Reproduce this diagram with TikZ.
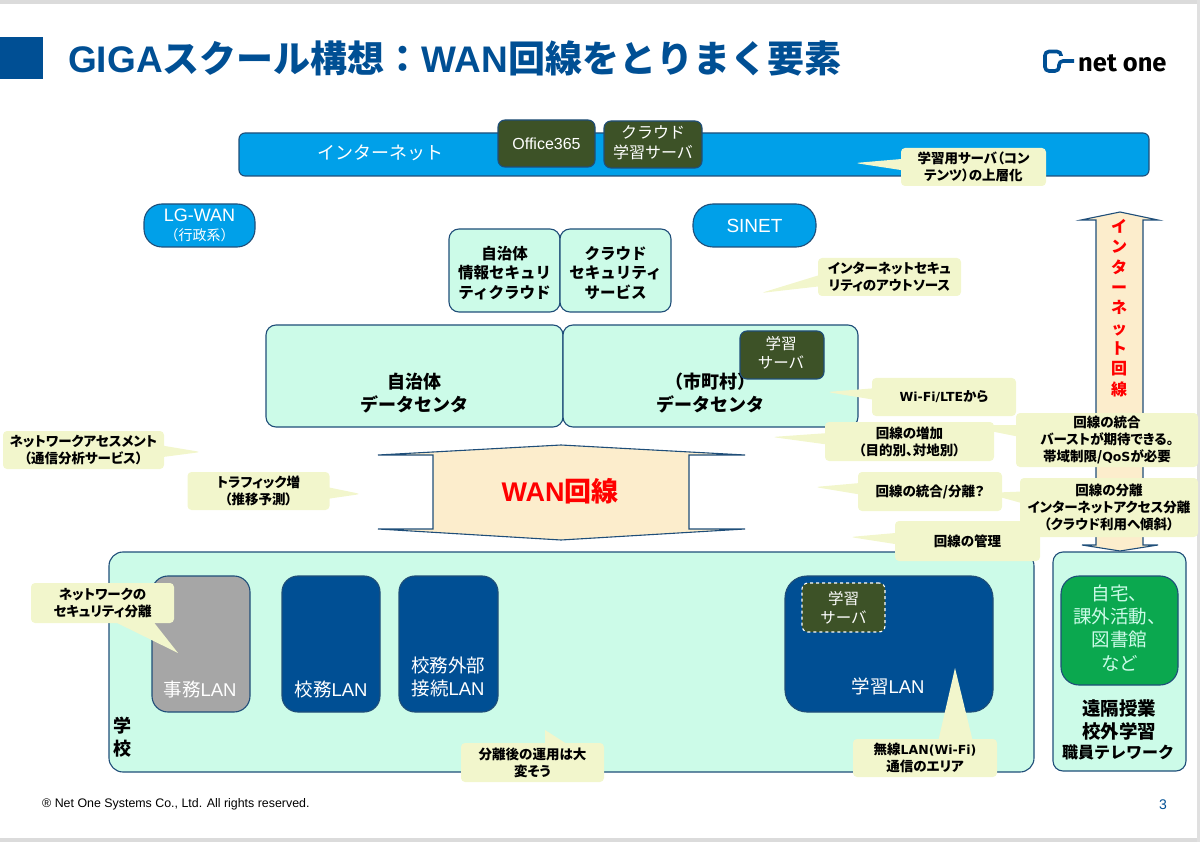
\documentclass[tikz,border=0pt]{standalone}
\usepackage{fontspec}
\setmainfont{Noto Sans CJK JP}
\newfontfamily\arialfont{Liberation Sans}
\newfontfamily\logofont{Fira Sans}
\newfontfamily\widefont{DejaVu Sans}
\newfontfamily\notefont[RawFeature=+palt]{Noto Sans CJK JP}
\usetikzlibrary{shapes.callouts}
\definecolor{slide-blue}{HTML}{004F94}
\definecolor{cloud-blue}{HTML}{00A0E9}
\definecolor{edge-blue}{HTML}{1F4E79}
\definecolor{site-green}{HTML}{CCFBE8}
\definecolor{server-olive}{HTML}{3D5227}
\definecolor{note-yellow}{HTML}{F2F6CC}
\definecolor{line-cream}{HTML}{FCEDCC}
\definecolor{home-green}{HTML}{0BA84F}
\newcommand{\px}[1]{\fontsize{#1}{\the\dimexpr#1pt*5/4\relax}\selectfont}
\tikzset{
  net-cloud/.style={draw=edge-blue, fill=cloud-blue, rounded corners=6pt, line width=1.1pt,
    text=white, align=center, inner sep=0pt},
  net-site/.style={draw=edge-blue, fill=site-green, rounded corners=10pt, line width=1.1pt,
    align=center, inner sep=0pt},
  net-server/.style={draw=edge-blue, fill=server-olive, rounded corners=7pt, line width=1.1pt,
    text=white, align=center, inner sep=0pt},
  net-lan/.style={draw=edge-blue, fill=slide-blue, rounded corners=16pt, line width=1.1pt,
    text=white, inner sep=0pt},
  net-note/.style={rectangle callout, fill=note-yellow, rounded corners=4pt, align=center,
    inner sep=0pt, font=\notefont\px{13.5}\bfseries, callout pointer width=11pt},
  net-line/.style={draw=edge-blue, fill=line-cream, line width=1.1pt, line join=miter},
  net-label/.style={inner sep=0pt, align=center}
}

\begin{document}
\begin{tikzpicture}[x=1pt, y=-1pt]
  \useasboundingbox (0,0) rectangle (1200,842);
  % slide frame and heading
  \fill[black!14] (0,0) rectangle (1200,4);
  \fill[black!14] (0,838) rectangle (1200,842);
  \fill[black!12] (1197,0) rectangle (1200,842);
  \fill[slide-blue] (0,37) rectangle (43,79);
  \node[net-label, anchor=west, text=slide-blue, font=\px{37}\bfseries] (title) at (68,58)
    {{\arialfont GIGA}スクール構想：{\arialfont WAN}回線をとりまく要素};
  % logo
  \draw[slide-blue, line width=3.6pt, rounded corners=4pt] (1061,56) -- (1061,51.5) -- (1045,51.5) -- (1045,71) -- (1059,71) -- (1059,61) -- (1074,61);
  \node[net-label, anchor=west, font=\logofont\px{25.5}\bfseries] (logo) at (1078,63) {net one};

  % internet layer
  \node[net-cloud, minimum width=910pt, minimum height=43pt] (internet) at (694,154.5) {};
  \node[net-label, text=white, font=\px{18}] (internetname) at (380,153) {インターネット};
  \node[net-server, minimum width=97pt, minimum height=47pt, font=\arialfont\px{16}] (office) at (546.5,143.5) {Office365};
  \node[net-server, minimum width=98pt, minimum height=47pt, font=\px{16}] (cloudserver) at (653,144.5) {};
  \node[net-label, text=white, font=\px{16}] (cloudservername) at (653,143) {クラウド\\学習サーバ};
  \node[net-cloud, rounded corners=18pt, minimum width=111pt, minimum height=43pt, font=\px{15}] (lgwan) at (199.5,225.5)
    {{\arialfont\px{18}LG-WAN}\\[1pt]{\px{14}（行政系）}};
  \node[net-cloud, rounded corners=20pt, minimum width=123pt, minimum height=43pt, font=\arialfont\px{19}] (sinet) at (754.5,225.5) {SINET};

  % cloud services and data centers
  \node[net-site, minimum width=111pt, minimum height=83pt] (seccloud) at (504.5,270.5) {};
  \node[net-site, minimum width=111pt, minimum height=83pt] (secservice) at (615.5,270.5) {};
  \node[net-label, font=\px{15.5}\bfseries] (seccloudname) at (504.5,273) {自治体\\情報セキュリ\\ティクラウド};
  \node[net-label, font=\px{15.5}\bfseries] (secservicename) at (615.5,273) {クラウド\\セキュリティ\\サービス};
  \node[net-site, minimum width=297pt, minimum height=102pt] (dcpublic) at (414.5,376) {};
  \node[net-site, minimum width=295pt, minimum height=102pt] (dccity) at (710.5,376) {};
  \node[net-label, font=\px{18}\bfseries] (dcpublicname) at (414,393) {自治体\\データセンタ};
  \node[net-label, font=\px{18}\bfseries] (dccityname) at (710,393) {（市町村）\\データセンタ};
  \node[net-server, minimum width=84pt, minimum height=48pt] (dcserver) at (782,355) {};
  \node[net-label, text=white, font=\px{15.5}] (dcservername) at (781,352.5) {学習\\サーバ};

  % internet line, runs behind the notes
  \path[net-line] (1096,545) -- (1096,220) -- (1081,220) -- (1120,212) -- (1158,220) -- (1143,220)
    -- (1143,545) -- (1158,545) -- (1120,551) -- (1082,545) -- cycle;
  \node[net-label, text=red, font=\fontsize{16}{20.3}\selectfont\bfseries] (internetline) at (1119,308)
    {イ\\ン\\タ\\ー\\ネ\\ッ\\ト\\回\\線};

  % WAN line
  \path[net-line] (433,455) -- (378,455) -- (561,445) -- (745,455) -- (689,455) -- (689,529)
    -- (745,529) -- (561,540) -- (378,529) -- (433,529) -- cycle;
  \node[net-label, text=red, font=\px{27}\bfseries] (wan) at (560,491) {{\arialfont WAN}回線};

  % school site
  \node[net-site, rounded corners=14pt, minimum width=925pt, minimum height=220pt] (school) at (571.5,662) {};
  \node[net-label, font=\px{18}\bfseries] (schoolname) at (122,737) {学\\校};
  \node[net-lan, fill=black!35, minimum width=98pt, minimum height=136pt] (officelan) at (201,644) {};
  \node[net-lan, minimum width=98pt, minimum height=136pt] (adminlan) at (331,644) {};
  \node[net-lan, minimum width=99pt, minimum height=136pt] (extlan) at (448.5,644) {};
  \node[net-lan, rounded corners=22pt, minimum width=208pt, minimum height=136pt] (studylan) at (889,644) {};
  \node[net-label, text=white, font=\px{18.5}] (officelanname) at (200,689) {事務{\arialfont LAN}};
  \node[net-label, text=white, font=\px{18.5}] (adminlanname) at (331,689) {校務{\arialfont LAN}};
  \node[net-label, text=white, font=\px{18.5}] (extlanname) at (448,677) {校務外部\\[-1pt]接続{\arialfont LAN}};
  \node[net-label, text=white, font=\px{18.5}] (studylanname) at (888,686) {学習{\arialfont LAN}};
  \node[net-server, draw=white, dashed, rounded corners=6pt, minimum width=83pt, minimum height=49pt, font=\px{15.5}] (lanserver) at (843.5,607.5) {学習\\サーバ};

  % remote learning site
  \node[net-site, minimum width=133pt, minimum height=219pt] (remote) at (1119.5,661.5) {};
  \node[net-site, draw=edge-blue, fill=home-green, rounded corners=18pt, minimum width=117pt, minimum height=109pt] (home) at (1119.5,630.5) {};
  \node[net-label, text=site-green, font=\px{18.5}] (homename) at (1119.5,628) {自宅、\\課外活動、\\図書館\\など};
  \node[net-label, font=\px{18.5}\bfseries] (remotename) at (1119,720) {遠隔授業\\校外学習};
  \node[net-label, font=\px{16}\bfseries] (teleworkname) at (1118,752) {職員テレワーク};

  % notes
  \node[net-note, minimum width=145pt, minimum height=38pt, callout absolute pointer={(855,163)}] (noteupper) at (973.5,167) {学習用サーバ（コン\\テンツ）の上層化};
  \node[net-note, minimum width=143pt, minimum height=38pt, callout absolute pointer={(761,293)}] (noteoutsource) at (889.5,277) {インターネットセキュ\\リティのアウトソース};
  \node[net-note, minimum width=144pt, minimum height=38pt, callout absolute pointer={(827,392)}] (notewifi) at (944,397) {{\widefont\px{12.5}Wi-Fi/LTE}から};
  \node[net-note, minimum width=182pt, minimum height=54pt, callout absolute pointer={(960,425)}] (notemerge) at (1107,440) {回線の統合\\バーストが期待できる。\\帯域制限/{\widefont\px{12.5}QoS}が必要};
  \node[net-note, minimum width=169pt, minimum height=39pt, callout absolute pointer={(772,437)}] (noteincrease) at (909.5,441.5) {回線の増加\\（目的別、対地別）};
  \node[net-note, minimum width=178pt, minimum height=59pt, callout absolute pointer={(985,493)}] (noteseparate) at (1109,507.5) {回線の分離\\インターネットアクセス分離\\（クラウド利用へ傾斜）};
  \node[net-note, minimum width=144pt, minimum height=39pt, callout absolute pointer={(815,487)}] (notechoice) at (930,491.5) {回線の統合/分離？};
  \node[net-note, minimum width=145pt, minimum height=40pt, callout absolute pointer={(850,537)}] (notemanage) at (967.5,541) {回線の管理};
  \node[net-note, minimum width=161pt, minimum height=38pt, callout absolute pointer={(201,452)}] (noteassess) at (83.5,450) {ネットワークアセスメント\\（通信分析サービス）};
  \node[net-note, minimum width=142pt, minimum height=38pt, callout absolute pointer={(361,494)}] (notetraffic) at (258.5,491) {トラフィック増\\（推移予測）};
  \fill[note-yellow] (111,620) -- (178,653) -- (152,620) -- cycle;
  \node[net-note, shape=rectangle, minimum width=143pt, minimum height=40pt] (notesecurity) at (102.5,603) {ネットワークの\\セキュリティ分離};
  \fill[note-yellow] (545,746) -- (545,730) -- (570,746) -- cycle;
  \node[net-note, shape=rectangle, minimum width=143pt, minimum height=39pt] (noteoperate) at (532.5,762.5) {分離後の運用は大\\変そう};
  \fill[note-yellow] (938,742) -- (955,668) -- (973,742) -- cycle;
  \node[net-note, shape=rectangle, minimum width=144pt, minimum height=38pt] (notewireless) at (925,758) {無線{\widefont\px{12.5}LAN(Wi-Fi)}\\通信のエリア};

  % footer
  \node[net-label, anchor=west, font=\arialfont\px{12.4}] (copyright) at (42,804.5) {® Net One Systems Co., Ltd. All rights reserved.};
  \node[net-label, text=slide-blue, font=\arialfont\px{14}] (pagenumber) at (1163,804.5) {3};
\end{tikzpicture}
\end{document}
